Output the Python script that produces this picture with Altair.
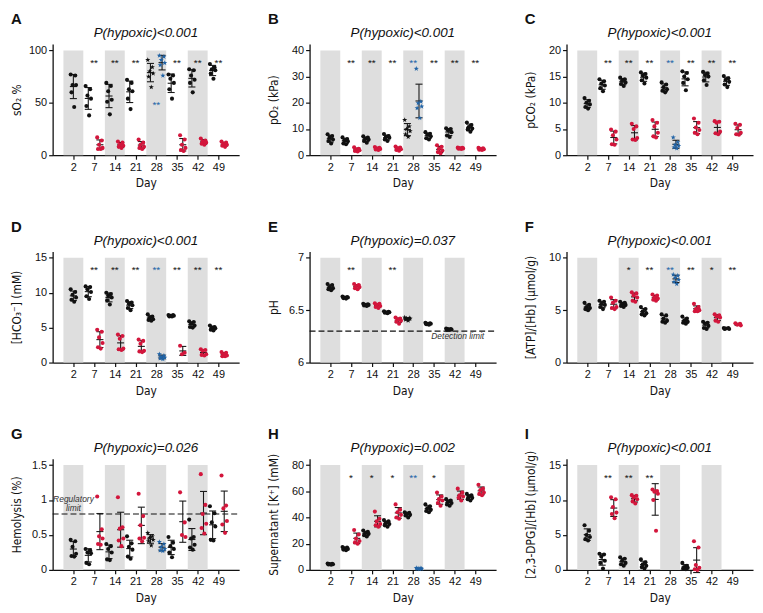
import altair as alt
import pandas as pd

DAYS = ["2", "7", "14", "21", "28", "35", "42", "49"]
SHADED = ["2", "14", "28", "42"]

LETTERS = ["A", "B", "C", "D", "E", "F", "G", "H", "I"]
TITLES = ["P(hypoxic)<0.001", "P(hypoxic)<0.001", "P(hypoxic)<0.001",
          "P(hypoxic)<0.001", "P(hypoxic)=0.037", "P(hypoxic)<0.001",
          "P(hypoxic)=0.026", "P(hypoxic)=0.002", "P(hypoxic)<0.001"]
YTITLES = ["sO₂ %", "pO₂ (kPa)", "pCO₂ (kPa)", "[HCO₃⁻] (mM)", "pH",
           "[ATP]/[Hb] (μmol/g)", "Hemolysis (%)", "Supernatant [K⁺] (mM)",
           "[2,3-DPG]/[Hb] (μmol/g)"]
YTICKS = [[0, 50, 100], [0, 10, 20, 30, 40], [0, 5, 10, 15, 20], [0, 5, 10, 15],
          [6, 6.5, 7], [0, 5, 10], [0, 0.5, 1, 1.5], [0, 20, 40, 60, 80], [0, 5, 10, 15]]

# ---- A: sO2 ----
A_CTRL = [[77, 76, 67, 67, 60, 46], [66, 63, 57, 54, 47, 38], [69, 66, 61, 53, 51, 39],
          [72, 69, 63, 61, 54, 44], [91, 84, 80, 78, 75, 65], [77, 76, 73, 69, 63, 54],
          [82, 81, 76, 72, 69, 60], [87, 84, 82, 81, 78, 73]]
A_HYP = [[], [17, 14, 10, 7, 6, 6], [13, 12, 10, 9, 8, 7], [15, 12, 10, 8, 7, 6], [],
         [19, 15, 10, 7, 5, 4], [16, 14, 13, 12, 11, 10], [13, 12, 11, 10, 9, 8]]
A_BLUE = [95, 94, 91, 88, 86, 76]
A_STARS = ["", "**", "**", "**", "**", "**", "**", "**"]

# ---- B: pO2 ----
B_CTRL = [[8, 7.3, 6.7, 6, 5.4, 4.5], [6.8, 6.2, 5.7, 5.3, 4.5, 4.2], [7.2, 6.7, 6.3, 6, 5.4, 4.8],
          [8.1, 7.3, 7, 6.7, 6, 5.4], [13.5, 11, 10, 9.2, 8, 7], [8.8, 8.2, 7.8, 7.2, 6.5, 6],
          [10.3, 10, 9.5, 8.8, 7.5, 7], [12.5, 11.5, 10.8, 10.2, 9.8, 9]]
B_HYP = [[], [3, 2.5, 2.2, 1.9, 1.6, 1.4], [3.1, 2.8, 2.6, 2.4, 2.2, 2], [3.3, 2.9, 2.6, 2.3, 2, 1.7], [],
         [3.8, 3.2, 2.5, 1.8, 1.2, 0.8], [2.9, 2.8, 2.7, 2.6, 2.5, 2.4], [2.8, 2.6, 2.5, 2.3, 2.1, 2]]
B_BLUE = [33, 20.5, 19.9, 18.6, 18, 14.2]
B_STARS = ["", "**", "**", "**", "**", "**", "**", "**"]

# ---- C: pCO2 ----
C_CTRL = [[10.9, 10.4, 10, 9.7, 9.2, 8.9], [14.5, 14.1, 13.7, 13.3, 12.8, 12.2],
          [14.8, 14.5, 14.2, 13.9, 13.6, 13.2], [15.8, 15.5, 15.2, 14.8, 14.3, 13.7],
          [13.9, 13.5, 13, 12.6, 12.3, 12], [16, 15.7, 15, 14.5, 13.8, 12.4],
          [15.9, 15.6, 15.3, 15, 14.3, 13.4], [15.1, 14.7, 14.4, 14, 13.5, 13]]
C_HYP = [[], [4.9, 4.5, 3.8, 3, 2.1, 2], [6, 5.5, 5, 3.3, 3, 2.9], [6.7, 6.2, 5.5, 4.3, 3.6, 3.4], [],
         [7, 6.2, 5.3, 4.8, 4.3, 4], [6.5, 6.4, 6.2, 4.5, 4.2, 4], [6, 5.8, 5.2, 4.3, 4, 3.9]]
C_BLUE = [3.4, 2.5, 2, 1.8, 1.5, 1.3]
C_STARS = ["", "**", "**", "**", "**", "**", "**", "**"]

# ---- D: HCO3 ----
D_CTRL = [[10.5, 10.1, 9.7, 9.3, 9, 8.7], [10.9, 10.8, 10.5, 10.1, 9.5, 9.1],
          [10, 9.8, 9.6, 9.3, 8.9, 8.3], [8.8, 8.6, 8.4, 8.2, 7.8, 7.5],
          [6.9, 6.6, 6.4, 6.2, 6.1, 6], [6.8, 6.8, 6.7, 6.7, 6.6, 6.6],
          [5.9, 5.8, 5.6, 5.3, 5.1, 5], [5.3, 5.1, 5, 4.9, 4.7, 4.6]]
D_HYP = [[], [4.7, 4.4, 3.6, 2.8, 2.2, 2], [4, 3.8, 3.4, 2, 1.9, 1.8], [3.3, 3.1, 2.7, 1.7, 1.6, 1.5], [],
         [2.4, 1.4, 1.2], [1.9, 1.8, 1.7, 1.2, 1.1, 1], [1.5, 1.4, 1.2, 1, 0.9, 0.9]]
D_BLUE = [1.2, 1, 0.8, 0.7, 0.6, 0.5]
D_STARS = ["", "**", "**", "**", "**", "**", "**", "**"]

# ---- E: pH ----
E_CTRL = [[6.75, 6.74, 6.72, 6.71, 6.7, 6.69], [6.63, 6.625, 6.62, 6.62, 6.615, 6.61],
          [6.56, 6.555, 6.55, 6.55, 6.545, 6.54], [6.49, 6.485, 6.48, 6.48, 6.475, 6.47],
          [6.43, 6.425, 6.42, 6.42, 6.41, 6.4], [6.38, 6.375, 6.37, 6.37, 6.365, 6.36],
          [6.325, 6.32, 6.32, 6.315, 6.31, 6.31], []]
E_HYP = [[], [6.75, 6.74, 6.73, 6.72, 6.71, 6.7], [6.565, 6.56, 6.55, 6.54, 6.53, 6.52],
         [6.43, 6.42, 6.41, 6.4, 6.39, 6.37], [], [], [], []]
E_BLUE = []
E_STARS = ["", "**", "", "**", "", "", "", ""]

# ---- F: ATP ----
F_CTRL = [[5.7, 5.5, 5.3, 5.2, 5.1, 5], [5.9, 5.8, 5.6, 5.5, 5.3, 5.1], [5.8, 5.7, 5.6, 5.5, 5.4, 5.3],
          [5.3, 5.1, 4.9, 4.7, 4.6, 4.5], [4.6, 4.5, 4.2, 4, 3.9, 3.8], [4.4, 4.2, 4, 3.9, 3.8, 3.7],
          [3.9, 3.8, 3.7, 3.5, 3.3, 3.2], [3.3, 3.3, 3.25, 3.2, 3.2]]
F_HYP = [[], [6.2, 5.9, 5.7, 5.3, 5.2, 5.1], [6.7, 6.6, 6.4, 6.2, 5.9, 5.8], [6.5, 6.4, 6.2, 6.1, 6, 5.9], [],
         [5.6, 5.3, 5.1, 5, 4.9, 4.9], [4.6, 4.5, 4.4, 4.3, 4, 3.9], [3.75, 3.7, 3.6, 3.55]]
F_BLUE = [8.4, 8.3, 8.1, 7.9, 7.7, 7.5]
F_STARS = ["", "", "*", "**", "**", "**", "*", "**"]

# ---- G: hemolysis ----
G_CTRL = [[0.43, 0.41, 0.33, 0.23, 0.2, 0.19], [0.3, 0.28, 0.25, 0.24, 0.1, 0.08],
          [0.37, 0.34, 0.3, 0.25, 0.15, 0.14], [0.48, 0.38, 0.33, 0.29, 0.19, 0.16],
          [0.53, 0.48, 0.46, 0.43, 0.41, 0.35], [0.47, 0.39, 0.34, 0.3, 0.25, 0.18],
          [0.72, 0.47, 0.45, 0.36, 0.32, 0.29], [0.91, 0.81, 0.68, 0.62, 0.43, 0.42]]
G_HYP = [[], [1.05, 0.58, 0.48, 0.45, 0.37, 0.36], [1.04, 0.61, 0.59, 0.45, 0.42, 0.34],
         [1.09, 0.77, 0.64, 0.46, 0.45, 0.41], [], [1.11, 0.68, 0.5, 0.47],
         [1.37, 0.93, 0.8, 0.66, 0.6, 0.52], [1.35, 0.92, 0.88, 0.7, 0.65, 0.53]]
G_BLUE = [0.4, 0.37, 0.33, 0.3, 0.28, 0.27]
G_STARS = ["", "", "", "", "", "", "", ""]

# ---- H: K+ ----
H_CTRL = [[4.8, 4.6, 4.5, 4.3, 4.2, 4], [17.5, 17, 16.5, 16, 15.5, 15], [30, 29, 28, 27.5, 26.5, 25.5],
          [38, 37, 36, 35, 34, 33], [44, 43.5, 43, 42, 41.5, 40], [50, 48.5, 47, 46, 45, 44],
          [54, 53, 52, 51, 50, 49], [58, 57, 56, 55, 54, 53]]
H_HYP = [[], [30.5, 27, 24, 22, 21, 20], [44.5, 39, 37, 35, 34, 33], [50, 46, 44, 42, 40, 39], [],
         [59, 56, 54, 53, 51, 49], [62, 59, 57, 56, 55, 53], [65, 62, 61, 59, 58, 57]]
H_BLUE = [1.5, 1.2, 1, 0.9, 0.8, 0.7]
H_STARS = ["", "*", "*", "*", "**", "*", "", ""]

# ---- I: 2,3-DPG ----
I_CTRL = [[6.4, 5.6, 5, 4.7, 4.4, 4.2], [2.3, 2.2, 1.9, 1.3, 1, 0.2], [1.8, 1.6, 1.3, 1, 0.8, 0.6],
          [1.5, 1.1, 0.8, 0.6, 0.4, 0.2], [], [1, 0.6, 0.4, 0.3, 0.2, 0.1], [], []]
I_HYP = [[], [10.4, 10.1, 9, 8.2, 8, 7.4], [10.7, 10.6, 10.4, 10.1, 9.8, 9.5],
         [11.5, 11.3, 11.2, 10.9, 10, 5.6], [], [4.1, 3.2, 0.7, 0.3, 0.1, 0], [], []]
I_BLUE = []
I_STARS = ["", "**", "**", "**", "", "", "", ""]

CTRL = [A_CTRL, B_CTRL, C_CTRL, D_CTRL, E_CTRL, F_CTRL, G_CTRL, H_CTRL, I_CTRL]
HYP = [A_HYP, B_HYP, C_HYP, D_HYP, E_HYP, F_HYP, G_HYP, H_HYP, I_HYP]
BLUE = [A_BLUE, B_BLUE, C_BLUE, D_BLUE, E_BLUE, F_BLUE, G_BLUE, H_BLUE, I_BLUE]
STARS = [A_STARS, B_STARS, C_STARS, D_STARS, E_STARS, F_STARS, G_STARS, H_STARS, I_STARS]
STAR_BLUE_DAY = "28"
STAR_OVERRIDE_Y = {"A": 50}            # blue ** in panel A sits mid-plot
STAR_SHAPED_CTRL28 = ["A", "B", "E", "G"]
LIMITS = {"E": (6.3, ["Detection limit"], 6.225), "G": (0.8, ["Regulatory", "limit"], 0.97)}

# ---- style ----
W, H = 188, 112
OFF = 0.28
JIT = [-0.13, 0.09, -0.04, 0.13, -0.09, 0.04]
STAR_PATH = ("M0,-1L0.235,-0.324L0.951,-0.309L0.38,0.124L0.588,0.809L0,0.4"
             "L-0.588,0.809L-0.38,0.124L-0.951,-0.309L-0.235,-0.324Z")
CDOM = ["ctrl", "hyp", "blue"]
CRNG = ["#111111", "#d3163c", "#2063a6"]
NARROW = "Liberation Sans Narrow, DejaVu Sans Condensed, Arial Narrow, sans-serif"
SANS = "Liberation Sans, Arial, Helvetica, sans-serif"


def panel(k):
    letter = LETTERS[k]
    ticks = YTICKS[k]
    ymin, ymax = ticks[0], ticks[-1]
    top = ymin + 1.06 * (ymax - ymin)
    yscale = alt.Scale(domain=[ymin, top], nice=False, zero=False)
    xscale = alt.Scale(domain=[0, 9], nice=False, zero=False)
    labexpr = "[" + ",".join("'" + d + "'" for d in [""] + DAYS + [""]) + "][datum.value]"
    xaxis = alt.Axis(values=list(range(1, 9)), labelExpr=labexpr, title="Day", grid=False)
    yaxis = alt.Axis(values=ticks, labelExpr="'' + datum.value", title=YTITLES[k], grid=False,
                     minExtent=24, maxExtent=24)

    def X(f):
        return alt.X(f, type="quantitative", scale=xscale, axis=xaxis)

    def Y(f):
        return alt.Y(f, type="quantitative", scale=yscale, axis=yaxis)

    rows = []
    for i, d in enumerate(DAYS):
        groups = [("ctrl", CTRL[k][i], 0.0 if i == 0 else -OFF),
                  ("hyp", HYP[k][i], OFF)]
        if d == "28":
            groups.append(("blue", BLUE[k], OFF))
        for g, vals, off in groups:
            xc = i + 1 + off
            for j, v in enumerate(vals):
                shp = "circle"
                if g == "blue" or (g == "ctrl" and d == "28" and letter in STAR_SHAPED_CTRL28):
                    shp = "star"
                rows.append(dict(grp=g, value=v, xc=xc, xl=xc - 0.17, xr=xc + 0.17,
                                 x=xc + JIT[j % len(JIT)], shp=shp))
    df = pd.DataFrame(rows)

    bands = pd.DataFrame({"i": [DAYS.index(d) + 1 for d in SHADED]})
    bands["b0"] = bands["i"] - 0.48
    bands["b1"] = bands["i"] + 0.48
    bands["y0"] = ymin
    bands["y1"] = ymax
    band_layer = alt.Chart(bands).mark_rect(color="#dedede").encode(
        x=X("b0"), x2="b1", y=Y("y0"), y2="y1")

    layers = [band_layer]

    if letter in LIMITS:
        ly, ltxt, lty = LIMITS[letter]
        ldf = pd.DataFrame({"ly": [ly], "ty": [lty]})
        layers.append(alt.Chart(ldf).mark_rule(color="#111", strokeDash=[6, 3], strokeWidth=1.2).encode(
            y=Y("ly"), x=alt.value(0), x2=alt.value(W)))
        if letter == "E":
            layers.append(alt.Chart(ldf).mark_text(
                text=ltxt[0], font=SANS, fontSize=8.5, fontStyle="italic", color="#333",
                align="right", baseline="alphabetic").encode(y=Y("ty"), x=alt.value(W - 12)))
        else:
            layers.append(alt.Chart(ldf).mark_text(
                text=ltxt, font=SANS, fontSize=8.5, fontStyle="italic", color="#333",
                align="center", baseline="alphabetic", lineHeight=9).encode(y=Y("ty"), x=alt.value(21)))

    color = alt.Color("grp:N", scale=alt.Scale(domain=CDOM, range=CRNG), legend=None)

    base = alt.Chart(df)
    agg = base.transform_aggregate(
        m="mean(value)", sd="stdev(value)", n="count()", groupby=["xc", "xl", "xr"]
    ).transform_filter("datum.n > 1").transform_calculate(
        lo="datum.m - datum.sd", hi="datum.m + datum.sd")
    rc = dict(color="#1a1a1a", strokeWidth=1.1)
    layers.append(agg.mark_rule(**rc).encode(x=X("xc"), y=Y("lo"), y2="hi"))
    layers.append(agg.mark_rule(**rc).encode(x=X("xl"), x2="xr", y=Y("lo")))
    layers.append(agg.mark_rule(**rc).encode(x=X("xl"), x2="xr", y=Y("hi")))
    layers.append(agg.mark_rule(**rc).encode(x=X("xl"), x2="xr", y=Y("m")))

    layers.append(base.transform_filter("datum.shp == 'circle'").mark_point(
        filled=True, size=17, shape="circle", opacity=1).encode(x=X("x"), y=Y("value"), color=color))
    layers.append(base.transform_filter("datum.shp == 'star'").mark_point(
        filled=True, size=30, shape=STAR_PATH, opacity=1).encode(x=X("x"), y=Y("value"), color=color))

    srows = []
    for i, s in enumerate(STARS[k]):
        if s:
            g = "blue" if DAYS[i] == STAR_BLUE_DAY else "ctrl"
            sy = ymin + 0.9 * (ymax - ymin)
            if g == "blue" and letter in STAR_OVERRIDE_Y:
                sy = STAR_OVERRIDE_Y[letter]
            srows.append(dict(i=i + 1, s=s, col=CRNG[CDOM.index(g)], sy=sy))
    if srows:
        layers.append(alt.Chart(pd.DataFrame(srows)).mark_text(
            font=SANS, fontSize=10, baseline="middle", dy=2).encode(
            x=X("i"), y=Y("sy"), text="s:N", color=alt.Color("col:N", scale=None)))

    layers.append(alt.Chart(pd.DataFrame({"t": [TITLES[k]]})).mark_text(
        font=SANS, fontSize=13.5, fontStyle="italic", color="#111", align="center",
        baseline="alphabetic").encode(text="t:N", x=alt.value(W / 2), y=alt.value(-7)))
    layers.append(alt.Chart(pd.DataFrame({"t": [letter]})).mark_text(
        font=SANS, fontSize=15, fontWeight="bold", color="#111", align="left",
        baseline="alphabetic").encode(text="t:N", x=alt.value(-42), y=alt.value(-20)))

    return alt.layer(*layers).properties(width=W, height=H)


chart = alt.concat(*[panel(k) for k in range(9)], columns=3,
                   spacing={"row": 31, "column": 27}).properties(
    padding={"left": 3, "top": 2, "right": 2, "bottom": 2}
).configure_view(stroke=None).configure_axis(
    labelFont=SANS, labelFontSize=11, labelColor="#111", labelPadding=2,
    titleFont=NARROW, titleFontSize=12, titleFontWeight="normal", titleColor="#111",
    titlePadding=5, domainColor="#111", domainWidth=1.3, tickColor="#111",
    tickWidth=1.2, tickSize=4, grid=False
).configure_axisX(titlePadding=6)

chart.save("out.html", embed_options={"renderer": "svg", "actions": False})
